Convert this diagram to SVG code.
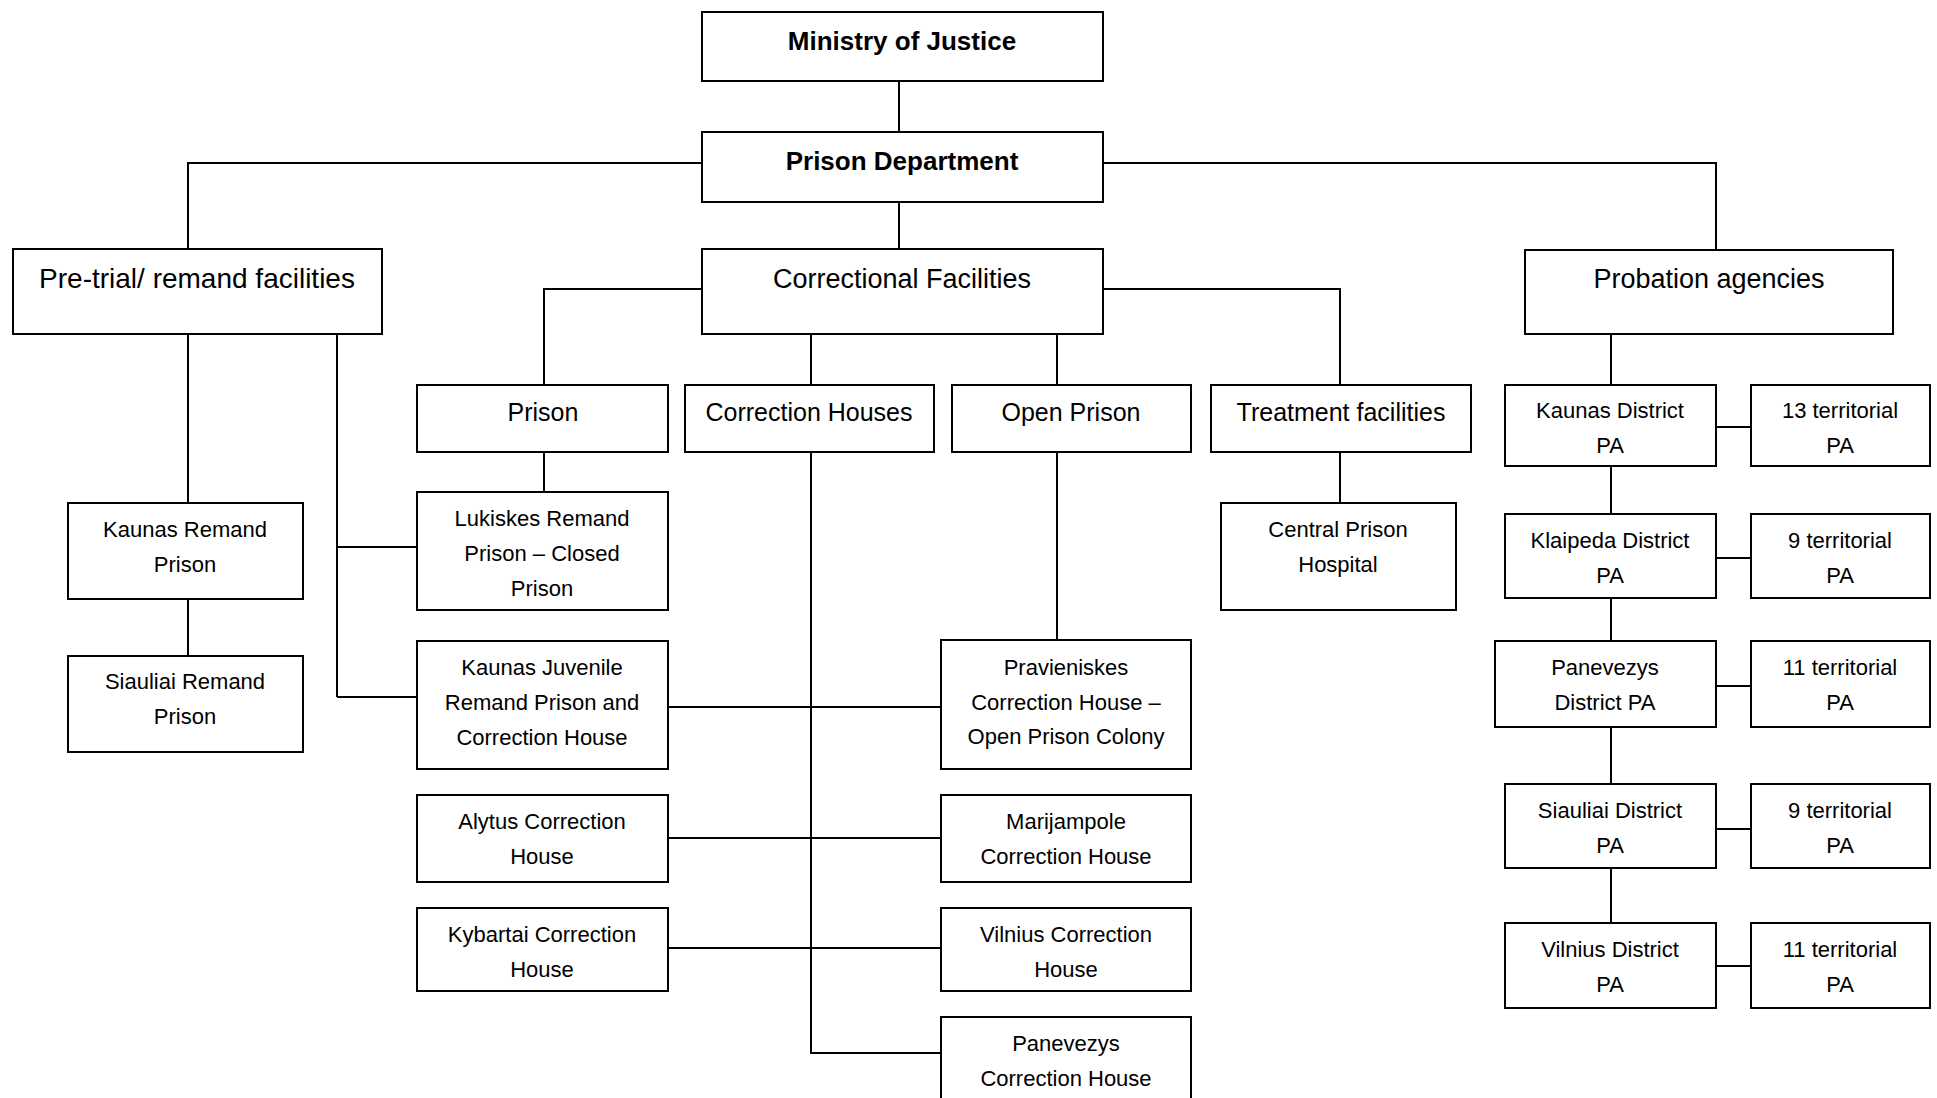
<svg xmlns="http://www.w3.org/2000/svg" width="1937" height="1098" viewBox="0 0 1937 1098">
<style>
rect{fill:#fff;stroke:#000;stroke-width:2}
text{font-family:"Liberation Sans",Arial,sans-serif;fill:#000;text-anchor:middle}
.b{font-weight:bold;font-size:26px}
.l{font-size:27px}
.m{font-size:25px}
.s{font-size:22px}
#connectors path{fill:none;stroke:#000;stroke-width:2}
</style>
<rect x="0" y="0" width="1937" height="1098" style="stroke:none"/>
<g id="connectors">
<path d="M899,81V132M899,202V249"/>
<path d="M702,163H188V249M1103,163H1716V250"/>
<path d="M188,334V503M188,599V656"/>
<path d="M337,334V697M337,547H417M337,697H417"/>
<path d="M702,289H544V385M544,452V492"/>
<path d="M811,334V385M1057,334V385"/>
<path d="M1103,289H1340V385M1340,452V503"/>
<path d="M811,452V1053H941"/>
<path d="M668,707H941M668,838H941M668,948H941"/>
<path d="M1057,452V640"/>
<path d="M1611,334V385M1611,466V514M1611,598V641M1611,727V784M1611,868V923"/>
<path d="M1716,427H1751M1716,558H1751M1716,686H1751M1716,829H1751M1716,966H1751"/>
</g>
<g id="n-ministry"><rect x="702" y="12" width="401" height="69"/><text class="b" x="902" y="50">Ministry of Justice</text></g>
<g id="n-prison-dept"><rect x="702" y="132" width="401" height="70"/><text class="b" x="902" y="170">Prison Department</text></g>
<g id="n-pretrial"><rect x="13" y="249" width="369" height="85"/><text class="l" x="197" y="288" style="font-size:28px">Pre-trial/ remand facilities</text></g>
<g id="n-correctional"><rect x="702" y="249" width="401" height="85"/><text class="l" x="902" y="288">Correctional Facilities</text></g>
<g id="n-probation"><rect x="1525" y="250" width="368" height="84"/><text class="l" x="1709" y="288">Probation agencies</text></g>
<g id="n-prison"><rect x="417" y="385" width="251" height="67"/><text class="m" x="543" y="421">Prison</text></g>
<g id="n-corr-houses"><rect x="685" y="385" width="249" height="67"/><text class="m" x="809" y="421">Correction Houses</text></g>
<g id="n-open-prison"><rect x="952" y="385" width="239" height="67"/><text class="m" x="1071" y="421">Open Prison</text></g>
<g id="n-treatment"><rect x="1211" y="385" width="260" height="67"/><text class="m" x="1341" y="421">Treatment facilities</text></g>
<g id="n-kaunas-remand"><rect x="68" y="503" width="235" height="96"/><text class="s" x="185" y="537">Kaunas Remand</text><text class="s" x="185" y="572">Prison</text></g>
<g id="n-siauliai-remand"><rect x="68" y="656" width="235" height="96"/><text class="s" x="185" y="689">Siauliai Remand</text><text class="s" x="185" y="724">Prison</text></g>
<g id="n-lukiskes"><rect x="417" y="492" width="251" height="118"/><text class="s" x="542" y="526">Lukiskes Remand</text><text class="s" x="542" y="561">Prison – Closed</text><text class="s" x="542" y="596">Prison</text></g>
<g id="n-kaunas-juvenile"><rect x="417" y="641" width="251" height="128"/><text class="s" x="542" y="675">Kaunas Juvenile</text><text class="s" x="542" y="710">Remand Prison and</text><text class="s" x="542" y="745">Correction House</text></g>
<g id="n-alytus"><rect x="417" y="795" width="251" height="87"/><text class="s" x="542" y="829">Alytus Correction</text><text class="s" x="542" y="864">House</text></g>
<g id="n-kybartai"><rect x="417" y="908" width="251" height="83"/><text class="s" x="542" y="942">Kybartai Correction</text><text class="s" x="542" y="977">House</text></g>
<g id="n-pravieniskes"><rect x="941" y="640" width="250" height="129"/><text class="s" x="1066" y="675">Pravieniskes</text><text class="s" x="1066" y="710">Correction House –</text><text class="s" x="1066" y="744">Open Prison Colony</text></g>
<g id="n-marijampole"><rect x="941" y="795" width="250" height="87"/><text class="s" x="1066" y="829">Marijampole</text><text class="s" x="1066" y="864">Correction House</text></g>
<g id="n-vilnius-ch"><rect x="941" y="908" width="250" height="83"/><text class="s" x="1066" y="942">Vilnius Correction</text><text class="s" x="1066" y="977">House</text></g>
<g id="n-panevezys-ch"><rect x="941" y="1017" width="250" height="100"/><text class="s" x="1066" y="1051">Panevezys</text><text class="s" x="1066" y="1086">Correction House</text></g>
<g id="n-hospital"><rect x="1221" y="503" width="235" height="107"/><text class="s" x="1338" y="537">Central Prison</text><text class="s" x="1338" y="572">Hospital</text></g>
<g id="n-kaunas-pa"><rect x="1505" y="385" width="211" height="81"/><text class="s" x="1610" y="418">Kaunas District</text><text class="s" x="1610" y="453">PA</text></g>
<g id="n-t13"><rect x="1751" y="385" width="179" height="81"/><text class="s" x="1840" y="418">13 territorial</text><text class="s" x="1840" y="453">PA</text></g>
<g id="n-klaipeda-pa"><rect x="1505" y="514" width="211" height="84"/><text class="s" x="1610" y="548">Klaipeda District</text><text class="s" x="1610" y="583">PA</text></g>
<g id="n-t9a"><rect x="1751" y="514" width="179" height="84"/><text class="s" x="1840" y="548">9 territorial</text><text class="s" x="1840" y="583">PA</text></g>
<g id="n-panevezys-pa"><rect x="1495" y="641" width="221" height="86"/><text class="s" x="1605" y="675">Panevezys</text><text class="s" x="1605" y="710">District PA</text></g>
<g id="n-t11a"><rect x="1751" y="641" width="179" height="86"/><text class="s" x="1840" y="675">11 territorial</text><text class="s" x="1840" y="710">PA</text></g>
<g id="n-siauliai-pa"><rect x="1505" y="784" width="211" height="84"/><text class="s" x="1610" y="818">Siauliai District</text><text class="s" x="1610" y="853">PA</text></g>
<g id="n-t9b"><rect x="1751" y="784" width="179" height="84"/><text class="s" x="1840" y="818">9 territorial</text><text class="s" x="1840" y="853">PA</text></g>
<g id="n-vilnius-pa"><rect x="1505" y="923" width="211" height="85"/><text class="s" x="1610" y="957">Vilnius District</text><text class="s" x="1610" y="992">PA</text></g>
<g id="n-t11b"><rect x="1751" y="923" width="179" height="85"/><text class="s" x="1840" y="957">11 territorial</text><text class="s" x="1840" y="992">PA</text></g>
</svg>
